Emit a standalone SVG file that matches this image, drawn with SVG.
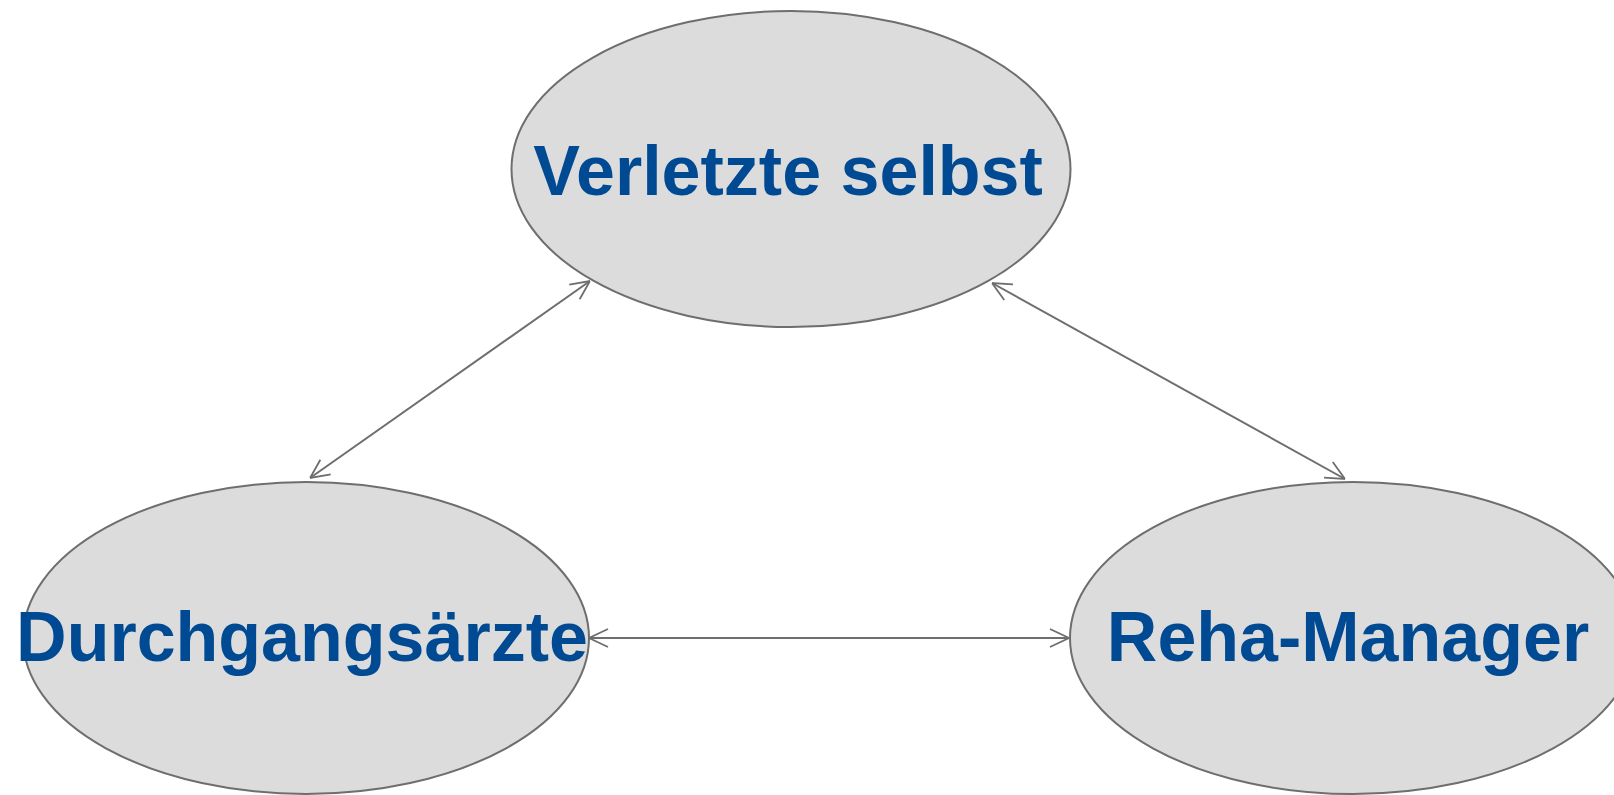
<svg xmlns="http://www.w3.org/2000/svg" width="1614" height="795" viewBox="0 0 1614 795">
  <style>
    .node ellipse { fill: #dcdcdc; stroke: #6e6e6e; stroke-width: 2; }
    .node text { font-family: "Liberation Sans", Arial, sans-serif; font-weight: bold; font-size: 70px; fill: #004a94; text-anchor: middle; }
    .conn line { stroke: #6e6e6e; stroke-width: 2; marker-start: url(#arr); marker-end: url(#arr); }
  </style>
  <defs>
    <marker id="arr" viewBox="0 0 20 20" refX="20" refY="10" markerWidth="20" markerHeight="20" markerUnits="userSpaceOnUse" orient="auto-start-reverse">
      <path d="M1,1 L20,10 L1,19" fill="none" stroke="#6e6e6e" stroke-width="1.8"/>
    </marker>
  </defs>
  <rect width="1614" height="795" fill="#ffffff"/>
  <g id="connectors" class="conn">
    <line x1="310" y1="478" x2="590" y2="281"/>
    <line x1="992" y1="283" x2="1345" y2="479"/>
    <line x1="589" y1="638" x2="1069" y2="638"/>
  </g>
  <g id="node-verletzte" class="node">
    <ellipse cx="791" cy="169" rx="279.5" ry="158"/>
    <text x="788" y="195">Verletzte selbst</text>
  </g>
  <g id="node-durchgangsaerzte" class="node">
    <ellipse cx="306" cy="638" rx="283" ry="156"/>
    <text x="302" y="661">Durchgangsärzte</text>
  </g>
  <g id="node-reha" class="node">
    <ellipse cx="1353" cy="638" rx="283" ry="156"/>
    <text x="1348" y="661">Reha-Manager</text>
  </g>
</svg>
